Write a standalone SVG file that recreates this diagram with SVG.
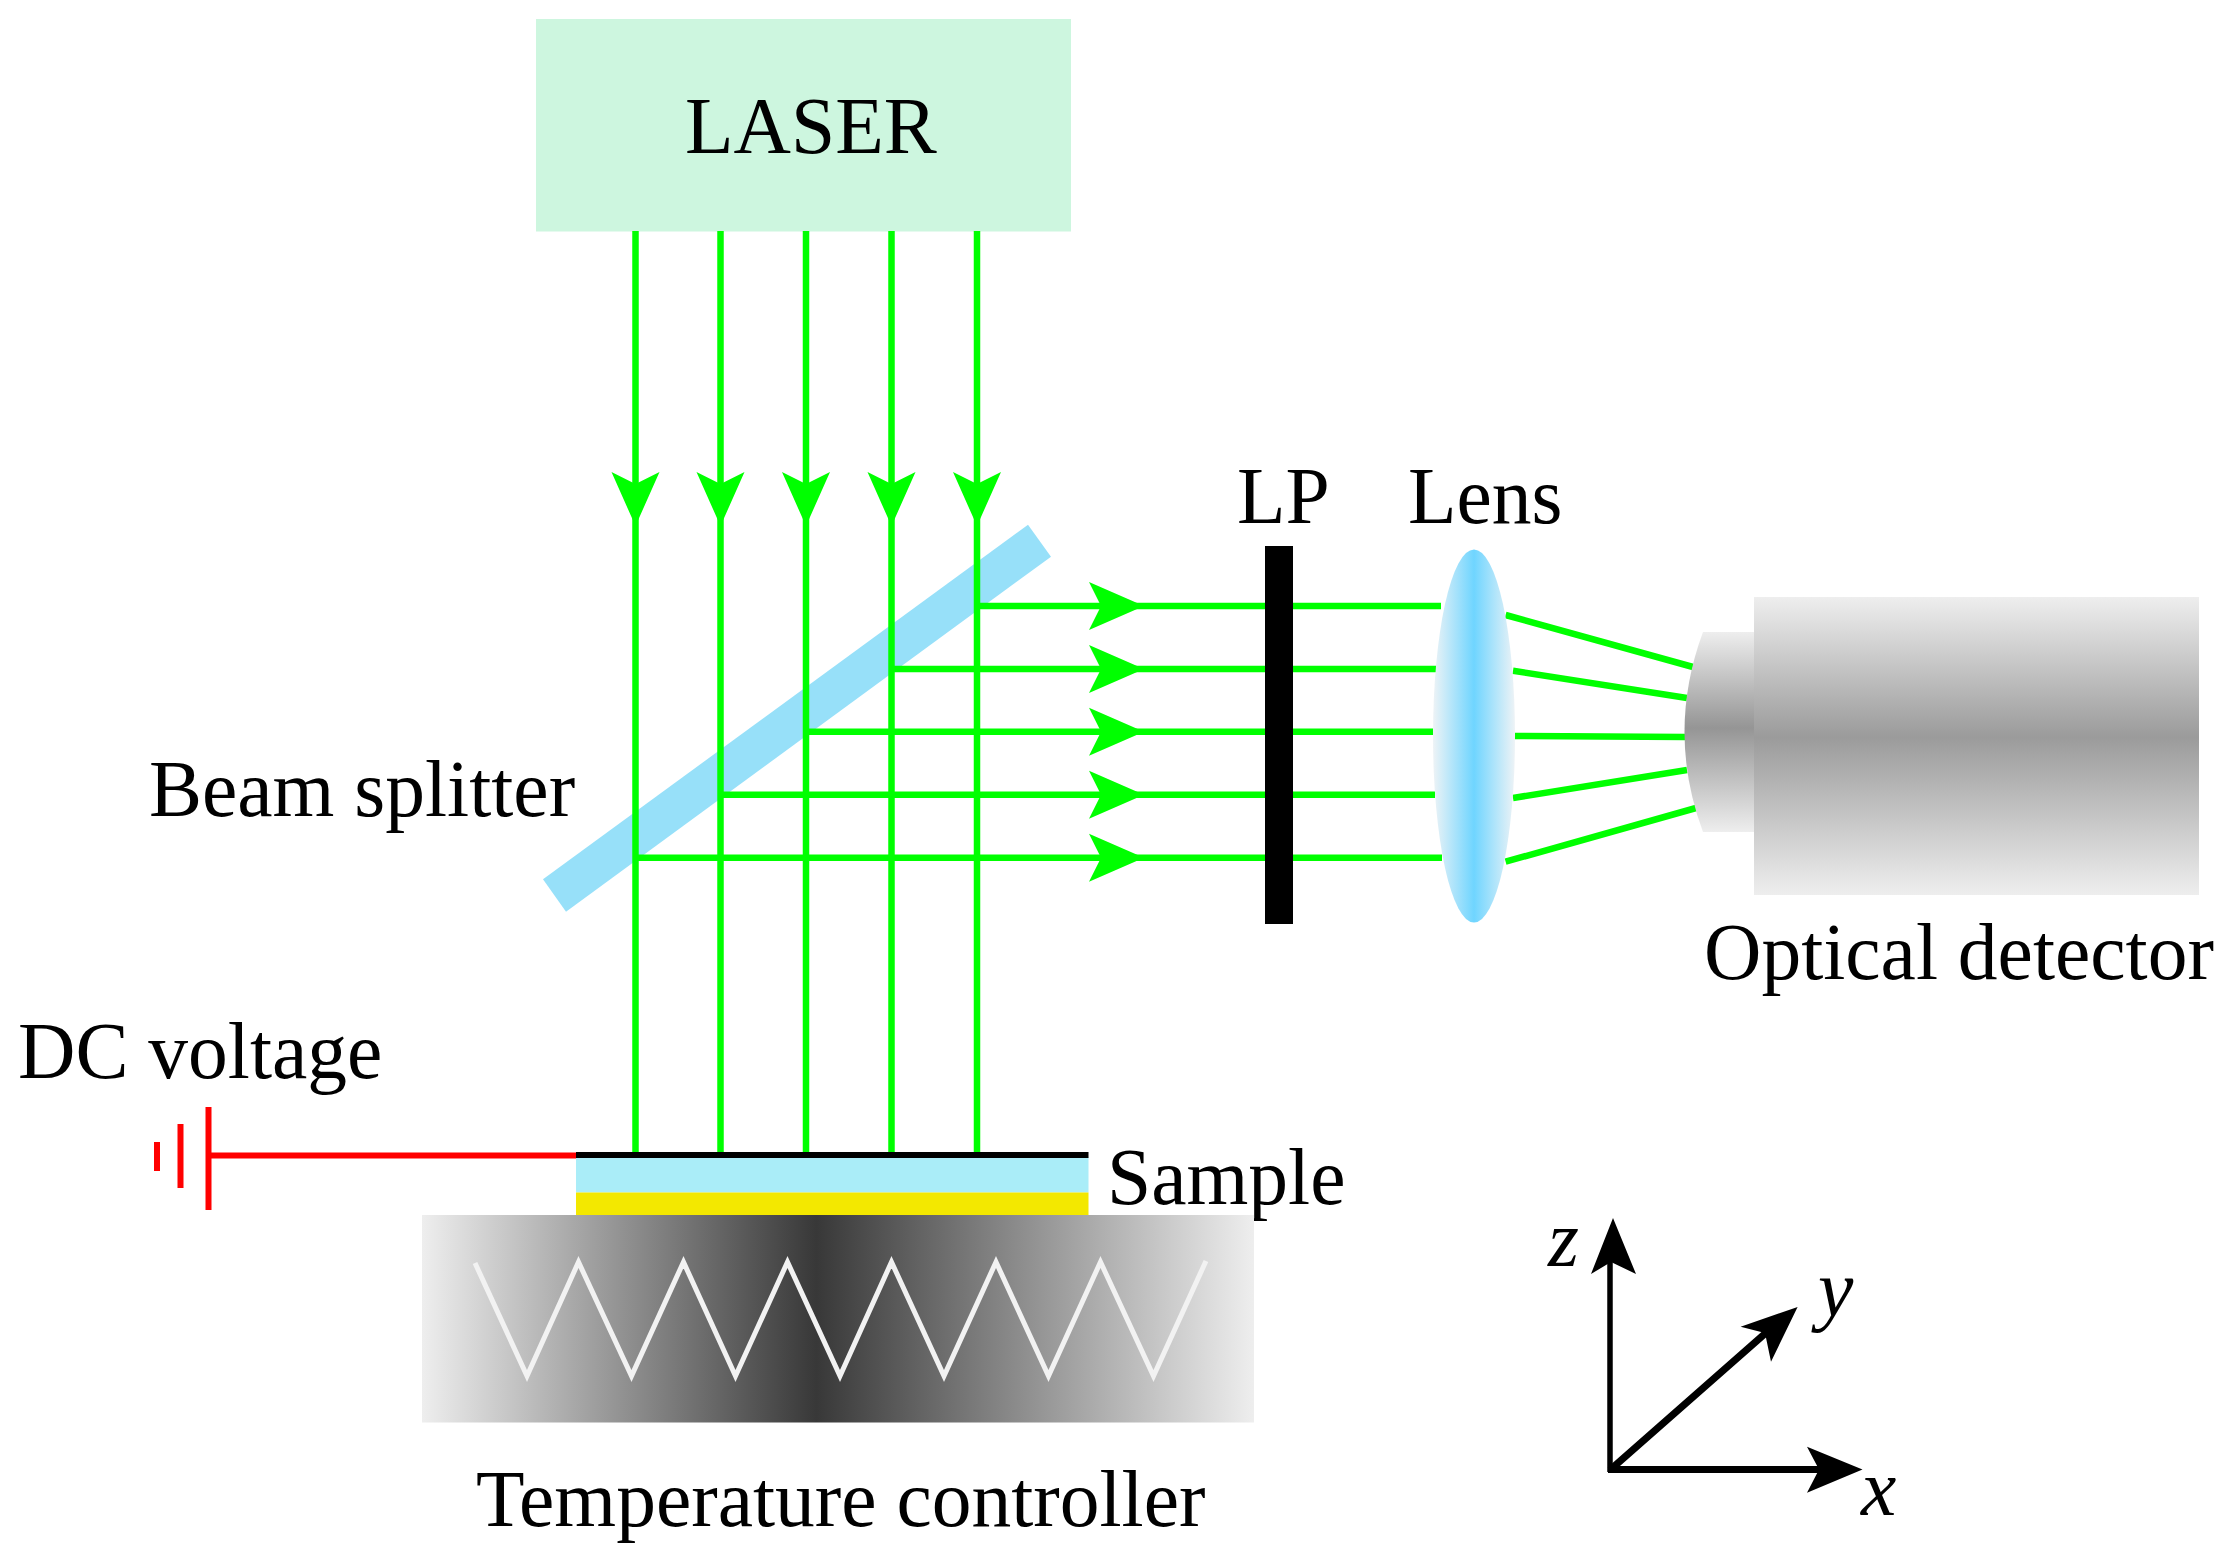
<svg xmlns="http://www.w3.org/2000/svg" width="2228" height="1564" viewBox="0 0 2228 1564">
<style>
text{font-family:"Liberation Serif","Times New Roman",serif;font-size:79.500px;fill:#000}
.it{font-style:italic}
.g{stroke:#00ff00;stroke-width:6.500;fill:none}
.ah{fill:#00ff00}
.r{stroke:#ff0000;stroke-width:6;fill:none}
.k{stroke:#000;fill:none}
</style>
<defs>
<linearGradient id="lensG" x1="0" y1="0" x2="1" y2="0"><stop offset="0" stop-color="#eef3f6"/><stop offset="0.5" stop-color="#6fd5ff"/><stop offset="1" stop-color="#eef3f6"/></linearGradient>
<linearGradient id="detG" x1="0" y1="0" x2="0" y2="1"><stop offset="0" stop-color="#eeeeee"/><stop offset="0.47" stop-color="#9b9b9b"/><stop offset="1" stop-color="#eeeeee"/></linearGradient>
<linearGradient id="detS" x1="0" y1="0" x2="0" y2="1"><stop offset="0" stop-color="#eeeeee"/><stop offset="0.48" stop-color="#959595"/><stop offset="1" stop-color="#eeeeee"/></linearGradient>
<linearGradient id="heatG" x1="0" y1="0" x2="1" y2="0"><stop offset="0" stop-color="#eeeeee"/><stop offset="0.474" stop-color="#383838"/><stop offset="1" stop-color="#eeeeee"/></linearGradient>
<polygon id="down" class="ah" points="-24,0 0,54 24,0 0,12"/>
<polygon id="right" class="ah" points="0,-24 55,0 0,24 12,0"/>
</defs>
<rect width="2228" height="1564" fill="#fff"/>
<g id="laser"><rect x="536" y="19" width="535" height="212.500" fill="#cdf6df"/><text x="685" y="153">LASER</text></g>
<g id="beam-splitter"><polygon points="1028,524.700 1051,556.700 566,911.700 543,879.300" fill="#97e0f9"/><text x="149" y="815.500">Beam splitter</text></g>
<g id="connectors">
<path class="g" d="M635.500 231V1155M720.500 231V1155M806 231V1155M891.500 231V1155M977 231V1155"/>
<path class="g" d="M635.500 857.700H1442M720.500 794.700H1435M806 731.700H1433M891.500 669H1436M977 606H1441"/>
<path class="g" d="M1505.600 615L1693 667M1513 670.700L1687 698M1515 736L1685 737M1513 798L1687 770M1505.600 861.700L1696 808"/>
<use href="#down" x="635.500" y="472"/><use href="#down" x="720.500" y="472"/><use href="#down" x="806" y="472"/><use href="#down" x="891.500" y="472"/><use href="#down" x="977" y="472"/>
<use href="#right" x="1089" y="606"/><use href="#right" x="1089" y="669"/><use href="#right" x="1089" y="731.700"/><use href="#right" x="1089" y="794.700"/><use href="#right" x="1089" y="857.700"/>
<path class="r" d="M208.500 1155.600H576"/>
</g>
<g id="lp"><rect x="1265" y="546" width="28" height="378" fill="#000"/><text x="1237" y="522.500">LP</text></g>
<g id="lens"><ellipse cx="1474" cy="736" rx="41" ry="186.500" fill="url(#lensG)"/><text x="1408" y="522.500">Lens</text></g>
<g id="optical-detector"><path d="M1755 632H1703Q1666 732 1703 832H1755Z" fill="url(#detS)"/><rect x="1754" y="597" width="445" height="298" fill="url(#detG)"/><text x="1704" y="979">Optical detector</text></g>
<g id="dc-voltage"><path class="r" d="M208.500 1107V1210M180.500 1124V1188M157 1142V1171"/><text x="18" y="1077.500">DC voltage</text></g>
<g id="sample"><rect x="576" y="1157" width="512.500" height="35.500" fill="#aaedf8"/><rect x="576" y="1192.500" width="512.500" height="23.500" fill="#f3e800"/><rect x="576" y="1152" width="512.500" height="6" fill="#000"/><text x="1107" y="1204">Sample</text></g>
<g id="temperature-controller"><rect x="422" y="1215" width="832" height="207.500" fill="url(#heatG)"/><polyline points="475,1263 527,1376 578.500,1262 631.500,1376 683.500,1262 735.500,1376 787.500,1262 840,1376 891.500,1262 944,1376 996,1262 1048.500,1376 1100.500,1262 1153.500,1376 1206,1261" fill="none" stroke="#f2f2f2" stroke-width="5"/><text x="476" y="1526">Temperature controller</text></g>
<g id="axes">
<path class="k" stroke-width="5.500" d="M1610 1472V1260"/><path class="k" stroke-width="7" d="M1608 1469.500H1825M1610 1470L1768 1331"/>
<polygon points="1613,1218 1636,1274 1611,1262 1591,1274"/>
<polygon points="1862.500,1469.500 1807,1446.700 1819,1469.500 1807,1492.700"/>
<polygon points="1797.600,1307 1740.600,1326.700 1765,1333 1771,1361.700"/>
<text class="it" x="1548" y="1266">z</text><text class="it" x="1818" y="1316">y</text><text class="it" x="1861" y="1515">x</text>
</g>
</svg>
